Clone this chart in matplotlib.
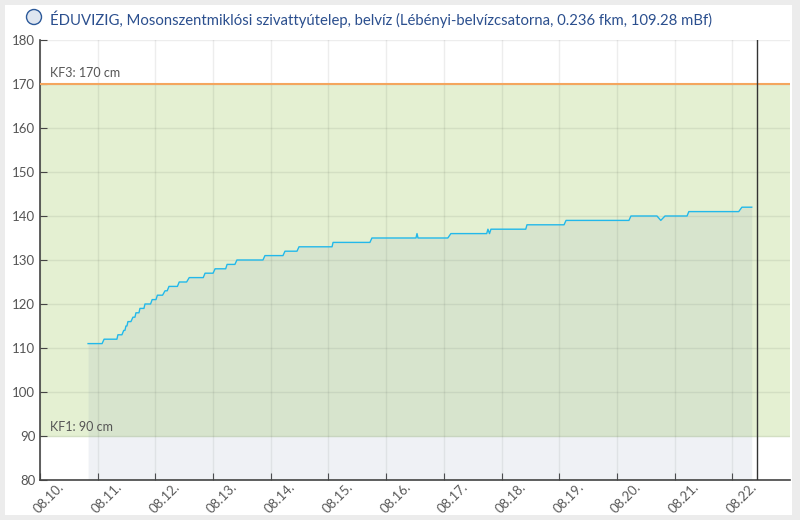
import matplotlib
matplotlib.use('Agg')
from matplotlib import pyplot as plt
import matplotlib.dates as mdates
import matplotlib.transforms as mtransforms
from matplotlib.patches import Rectangle, Ellipse
import pandas as pd

# water level readings (cm), step edges
times = ['08-10 20:00', '08-11 01:50', '08-11 02:40', '08-11 08:00', '08-11 08:25', '08-11 10:05',
         '08-11 10:50', '08-11 11:20', '08-11 11:45', '08-11 12:10', '08-11 12:35', '08-11 13:50',
         '08-11 14:40', '08-11 15:30', '08-11 15:55', '08-11 17:10', '08-11 17:35', '08-11 19:15',
         '08-11 19:40', '08-11 22:00', '08-11 22:40', '08-12 00:15', '08-12 00:50', '08-12 03:00',
         '08-12 04:00', '08-12 04:55', '08-12 05:40', '08-12 09:10', '08-12 09:55', '08-12 13:00',
         '08-12 14:05', '08-12 19:55', '08-12 20:40', '08-13 00:00', '08-13 00:50', '08-13 05:15',
         '08-13 05:50', '08-13 09:05', '08-13 09:55', '08-13 20:45', '08-13 21:35', '08-14 05:05',
         '08-14 05:55', '08-14 10:55', '08-14 11:45', '08-15 01:30', '08-15 01:55', '08-15 17:15',
         '08-15 18:05', '08-16 12:25', '08-16 12:50', '08-16 13:15', '08-17 01:40', '08-17 02:55',
         '08-17 17:50', '08-17 18:20', '08-17 19:00', '08-17 19:35', '08-18 10:05', '08-18 10:35',
         '08-19 02:00', '08-19 02:50', '08-20 05:00', '08-20 05:50', '08-20 16:40', '08-20 18:15',
         '08-20 20:00', '08-21 05:10', '08-21 05:55', '08-22 02:40', '08-22 04:00', '08-22 08:05']
levels = [111, 111, 112, 112, 113, 113,
          114, 114, 115, 115, 116, 116,
          117, 117, 118, 118, 119, 119,
          120, 120, 121, 121, 122, 122,
          123, 123, 124, 124, 125, 125,
          126, 126, 127, 127, 128, 128,
          129, 129, 130, 130, 131, 131,
          132, 132, 133, 133, 134, 134,
          135, 135, 136, 135, 135, 136,
          136, 137, 136, 137, 137, 138,
          138, 139, 139, 140, 140, 139,
          140, 140, 141, 141, 142, 142]

year = '2024-'
kf1 = 90
kf3 = 170
kf_labels = ['KF1: 90 cm', 'KF3: 170 cm']
now_time = '08-22 10:05'
x_start = '08-10 00:00'
x_end = '08-23 00:00'
title = ('ÉDUVIZIG, Mosonszentmiklósi szivattyútelep, belvíz '
         '(Lébényi-belvízcsatorna, 0.236 fkm, 109.28 mBf)')

t = pd.to_datetime([year + s for s in times])
days = pd.date_range(year + x_start, year + '08-22 00:00', freq='D')

fig = plt.figure(figsize=(8, 5.2), dpi=100)
fig.patch.set_facecolor('#ececec')
fig.add_artist(Rectangle((5 / 800, 5 / 520), 787 / 800, 510 / 520,
                         transform=fig.transFigure, facecolor='white',
                         edgecolor='none', zorder=-5))

ax = fig.add_axes([40 / 800, 40 / 520, 750 / 800, 440 / 520])
ax.set_facecolor('none')
ax.set_zorder(2)

# threshold band and line
ax.axhspan(kf1, kf3, color='#e4f0d2', zorder=0)
ax.axhline(kf3, color='#f4a65e', lw=1.5, zorder=3)

ax.fill_between(t, levels, 80, color='#7f93ad', alpha=0.12, lw=0, zorder=1)
ax.plot(t, levels, color='#22b8ea', lw=1.0, zorder=4)

ax.axvline(pd.to_datetime(year + now_time), color='#333333', lw=1, zorder=5)

ax.set_ylim(80, 180)
ax.set_xlim(pd.to_datetime(year + x_start), pd.to_datetime(year + x_end))
ax.set_yticks(range(80, 181, 10))
ax.set_xticks(days)
ax.set_xticklabels([])

ax.grid(True, color='black', alpha=0.07, lw=1, zorder=0.5)
ax.set_axisbelow(True)

for s in ['top', 'right']:
    ax.spines[s].set_visible(False)
for s in ['left', 'bottom']:
    ax.spines[s].set_color('#444444')
    ax.spines[s].set_linewidth(1.2)

ax.tick_params(direction='in', length=5, color='#444444', labelcolor='#555555',
               labelsize=9.5)
for lab in ax.get_yticklabels():
    lab.set_family('Lato')

# rotated date labels, starting at the tick and rising to the right
lab_trans = mtransforms.offset_copy(ax.get_xaxis_transform(), fig=fig, x=-1, y=-34, units='dots')
for d in days:
    ax.text(mdates.date2num(d), 0, d.strftime('%m.%d.'), transform=lab_trans,
            rotation=45, rotation_mode='anchor', ha='left', va='baseline',
            fontsize=9.5, color='#5a5a5a', family='Lato', clip_on=False)

fig.text(50 / 800, 1 - 427 / 520, kf_labels[0], fontsize=9, color='#555555',
         va='center', family='Lato', zorder=10)
fig.text(50 / 800, 1 - 73 / 520, kf_labels[1], fontsize=9, color='#555555',
         va='center', family='Lato', zorder=10)

# logo + title
fig.add_artist(Ellipse((34 / 800, 1 - 17 / 520), 15 / 800, 15 / 520,
                       transform=fig.transFigure, facecolor='#dfe6f0',
                       edgecolor='#2d5a9a', lw=1, zorder=3))
fig.text(50 / 800, 1 - 19 / 520, title, fontsize=10.7, color='#2b4f8e',
         va='center', ha='left', family='Lato')

fig.savefig('out.png', dpi=100)
